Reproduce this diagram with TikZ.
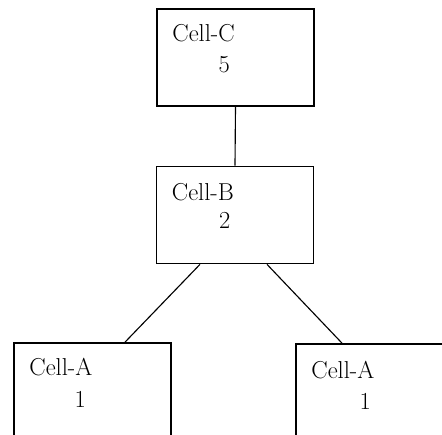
\documentclass[tikz,border=0pt]{standalone}
\usetikzlibrary{calc}
\begin{document}
\begin{tikzpicture}[x=0.025cm,y=-0.025cm,
    every node/.style={font=\fontsize{17.4}{20}\selectfont},
    cell/.style={draw,line width=1.2pt,minimum width=3.925cm,minimum height=2.425cm,inner sep=0pt},
    celltitle/.style={anchor=west,inner sep=0pt}]
    \clip (0,0) rectangle (442,435);

    \node[cell] (c) at (235.5,57.5){};
    \node[cell] (b) at (235,215){};
    \node[cell] (al) at (92.5,391.5){};
    \node[cell] (ar) at (374.5,392.5){};

    \node[celltitle] (cname) at ($(c.north west)+(16,25)$){Cell-C};
    \node (cval) at ($(c.north west)+(68,56)$){5};

    \node[celltitle] (bname) at ($(b.north west)+(16,26)$){Cell-B};
    \node (bval) at ($(b.north west)+(69,55)$){2};

    \node[celltitle] (alname) at ($(al.north west)+(16,25)$){Cell-A};
    \node (alval) at ($(al.north west)+(67,57)$){1};

    \node[celltitle] (arname) at ($(ar.north west)+(16,27)$){Cell-A};
    \node (arval) at ($(ar.north west)+(70,58)$){1};

    \draw[line width=0.8pt] (c.south) -- (b.north);
    \draw[line width=0.8pt] ($(b.south)+(-35,0)$) -- ($(al.north)+(32.5,0)$);
    \draw[line width=0.8pt] ($(b.south)+(32,0)$) -- ($(ar.north)+(-32.5,0)$);
\end{tikzpicture}
\end{document}
